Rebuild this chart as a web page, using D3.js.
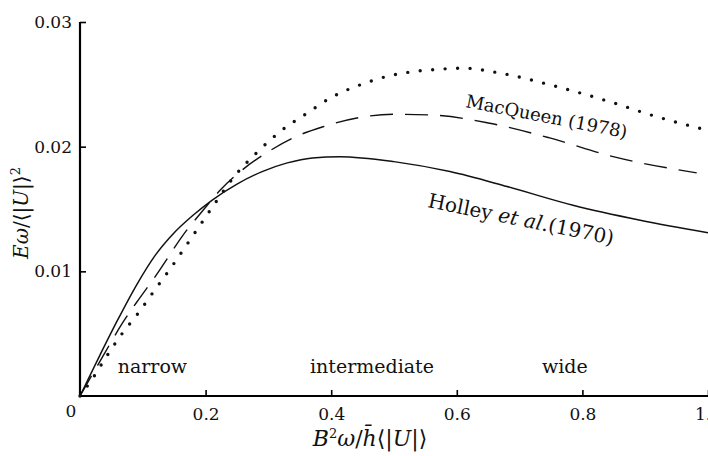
<html>
  <meta charset="utf-8">
<head>
    <script src="https://d3js.org/d3.v7.min.js"></script>
</head>
<body style="margin:0; background-color:#ffffff">

<div id="chart"></div>

<script>

// Holley et al. (1970), solid
var holleyX = [0, 0.03, 0.06, 0.09, 0.12, 0.15, 0.18, 0.21, 0.25, 0.29, 0.33, 0.37, 0.414, 0.5, 0.589, 0.68, 0.785, 0.892, 1.0];
var holleyY = [0, 0.0031, 0.0061, 0.0089, 0.0113, 0.0131, 0.0145, 0.0157, 0.0170, 0.0180, 0.0187, 0.0191, 0.0192, 0.0188, 0.0180, 0.0168, 0.0153, 0.0141, 0.0131];

// MacQueen (1978), dashed
var macX = [0, 0.04, 0.067, 0.09, 0.12, 0.17, 0.196, 0.223, 0.26, 0.30, 0.339, 0.387, 0.441, 0.499, 0.562, 0.65, 0.748, 0.849, 0.982];
var macY = [0, 0.0035, 0.0058, 0.0075, 0.0096, 0.0133, 0.0149, 0.0165, 0.0182, 0.0196, 0.0207, 0.0216, 0.0223, 0.0226, 0.02253, 0.0219, 0.0207, 0.0192, 0.0179];

// third curve, dotted
var dotX = [0, 0.02, 0.04, 0.067, 0.092, 0.119, 0.145, 0.183, 0.217, 0.244, 0.283, 0.321, 0.362, 0.402, 0.443, 0.486, 0.528, 0.57, 0.61, 0.669, 0.753, 0.844, 0.912, 1.0];
var dotY = [0, 0.0014, 0.0030, 0.0050, 0.0066, 0.0085, 0.0103, 0.0131, 0.0156, 0.0175, 0.0196, 0.0213, 0.0227, 0.0240, 0.0249, 0.0256, 0.0260, 0.0262, 0.0263, 0.0259, 0.0249, 0.0236, 0.0225, 0.0213];

var xTicks = [0.2, 0.4, 0.6, 0.8, 1.0];
var xTickLabels = ["0.2", "0.4", "0.6", "0.8", "1.0"];
var yTicks = [0.01, 0.02, 0.03];
var yTickLabels = ["0.01", "0.02", "0.03"];

var regions = ["narrow", "intermediate", "wide"];
var regionX = [0.06, 0.465, 0.772];

var W = 708, H = 456;
var font = "'DejaVu Serif', serif";

var svg = d3.select("#chart")
  .append("svg")
    .attr("width", W)
    .attr("height", H)
    .style("background", "#ffffff");

var x = d3.scaleLinear().domain([0, 1]).range([80, 708]);
var y = d3.scaleLinear().domain([0, 0.03]).range([396, 22]);

// axes
var xAxis = svg.append("g")
  .attr("transform", "translate(0," + y(0) + ")")
  .call(d3.axisBottom(x).tickValues(xTicks).tickSize(-6).tickPadding(12)
        .tickFormat(function(d, i) { return xTickLabels[i]; }));
xAxis.select(".domain").attr("stroke-width", 2.2).attr("d", "M" + x(0) + ",0H" + (W + 5));

var yAxis = svg.append("g")
  .attr("transform", "translate(" + x(0) + ",0)")
  .call(d3.axisLeft(y).tickValues(yTicks).tickSize(-6).tickPadding(8)
        .tickFormat(function(d, i) { return yTickLabels[i]; }));
yAxis.select(".domain").attr("stroke-width", 2.2).attr("d", "M0," + y(0) + "V" + y(0.03));

svg.selectAll(".tick line").attr("stroke-width", 1.6);
svg.selectAll(".tick text")
  .style("font-family", font)
  .style("font-size", "17px")
  .attr("fill", "#111");

svg.append("text")
  .attr("x", x(0) - 9)
  .attr("y", y(0) + 21)
  .attr("text-anchor", "middle")
  .style("font-family", font)
  .style("font-size", "17px")
  .attr("fill", "#111")
  .text("0");

// curves
var line = d3.line()
  .x(function(d) { return x(d[0]); })
  .y(function(d) { return y(d[1]); })
  .curve(d3.curveMonotoneX);

svg.append("path")
  .datum(d3.zip(holleyX, holleyY))
  .attr("d", line)
  .attr("fill", "none")
  .attr("stroke", "#111")
  .attr("stroke-width", 1.5);

svg.append("path")
  .datum(d3.zip(macX, macY))
  .attr("d", line)
  .attr("fill", "none")
  .attr("stroke", "#111")
  .attr("stroke-width", 1.4)
  .attr("stroke-dasharray", "23,12");

svg.append("path")
  .datum(d3.zip(dotX, dotY))
  .attr("d", line)
  .attr("fill", "none")
  .attr("stroke", "#111")
  .attr("stroke-width", 3.4)
  .attr("stroke-linecap", "round")
  .attr("stroke-dasharray", "0,12.5");

// region labels
svg.selectAll(".region")
  .data(regions)
  .enter()
  .append("text")
    .attr("x", function(d, i) { return x(regionX[i]); })
    .attr("y", y(0.00184))
    .attr("text-anchor", function(d, i) { return i == 0 ? "start" : "middle"; })
    .style("font-family", font)
    .style("font-size", "19px")
    .attr("fill", "#111")
    .text(function(d) { return d; });

// curve labels
svg.append("text")
  .attr("transform", "translate(" + x(0.613) + "," + y(0.02318) + ") rotate(11)")
  .style("font-family", font)
  .style("font-size", "18px")
  .attr("fill", "#111")
  .text("MacQueen (1978)");

var hl = svg.append("text")
  .attr("transform", "translate(" + x(0.5525) + "," + y(0.01516) + ") rotate(11.5)")
  .style("font-family", font)
  .style("font-size", "20px")
  .attr("fill", "#111");
hl.append("tspan").text("Holley ");
hl.append("tspan").style("font-style", "italic").text("et al.");
hl.append("tspan").text("(1970)");

// axis titles
var xt = svg.append("text")
  .attr("x", 370)
  .attr("y", 446)
  .attr("text-anchor", "middle")
  .style("font-family", font)
  .style("font-size", "22px")
  .attr("fill", "#111");
xt.append("tspan").style("font-style", "italic").text("B");
xt.append("tspan").style("font-size", "13px").attr("dy", -8).text("2");
xt.append("tspan").attr("dy", 8).style("font-style", "italic").text("ω");
xt.append("tspan").text("/");
xt.append("tspan").style("font-style", "italic").text("h\u0304");
xt.append("tspan").text("⟨|");
xt.append("tspan").style("font-style", "italic").text("U");
xt.append("tspan").text("|⟩");

var yt = svg.append("text")
  .attr("transform", "translate(28,213) rotate(-90)")
  .attr("text-anchor", "middle")
  .style("font-family", font)
  .style("font-size", "20px")
  .attr("fill", "#111");
yt.append("tspan").style("font-style", "italic").text("Eω");
yt.append("tspan").text("/⟨|");
yt.append("tspan").style("font-style", "italic").text("U");
yt.append("tspan").text("|⟩");
yt.append("tspan").style("font-size", "13px").attr("dy", -8).text("2");

</script>
</body>
</html>
